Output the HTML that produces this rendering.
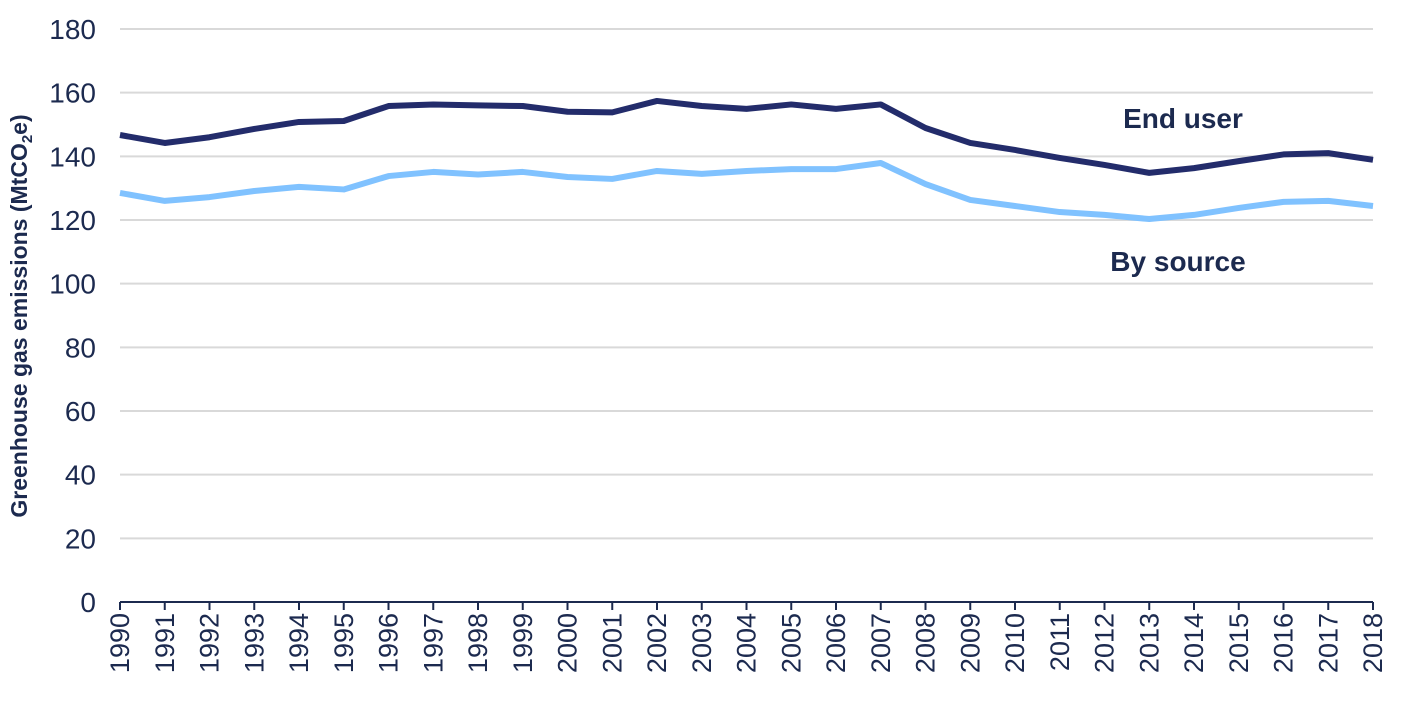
<!DOCTYPE html>
<html><head><meta charset="utf-8"><style>
html,body{margin:0;padding:0;background:#fff;}
svg text{font-family:"Liberation Sans",Arial,sans-serif;fill:#1c2a4f;}
</style></head><body>
<svg id="chart" width="1402" height="715" viewBox="0 0 1402 715" xmlns="http://www.w3.org/2000/svg">
<g id="grid"></g>
<g id="yticks"></g>
<g id="xaxis"></g>
<g id="lines"></g>
<text transform="translate(27,316) rotate(-90)" text-anchor="middle" font-size="23" font-weight="bold">Greenhouse gas emissions (MtCO<tspan font-size="15" dy="5">2</tspan><tspan dy="-5">e)</tspan></text>
<text x="1183" y="128" text-anchor="middle" font-size="28" font-weight="bold">End user</text>
<text x="1178" y="271" text-anchor="middle" font-size="28" font-weight="bold">By source</text>
</svg>
<script>
const years=[1990,1991,1992,1993,1994,1995,1996,1997,1998,1999,2000,2001,2002,2003,2004,2005,2006,2007,2008,2009,2010,2011,2012,2013,2014,2015,2016,2017,2018];
const endUser=[146.7,144.2,146,148.6,150.8,151.1,155.8,156.3,156,155.8,154,153.8,157.4,155.8,154.9,156.3,154.9,156.3,148.9,144.2,142,139.5,137.3,134.8,136.3,138.5,140.6,141,138.9];
const bySource=[128.5,126,127.2,129.1,130.4,129.6,133.8,135.1,134.3,135.1,133.5,132.9,135.4,134.5,135.4,136,136,137.9,131.3,126.3,124.4,122.5,121.6,120.3,121.6,123.8,125.7,126,124.4];
const yTicks=[0,20,40,60,80,100,120,140,160,180];
const NS="http://www.w3.org/2000/svg";
const x0=120,x1=1373,yb=602,yt=29;
function X(i){return x0+(x1-x0)*i/(years.length-1);}
function Y(v){return yb-(yb-yt)*v/180;}
function mk(t,a,p){const e=document.createElementNS(NS,t);for(const k in a)e.setAttribute(k,a[k]);p.appendChild(e);return e;}
const grid=document.getElementById('grid'),yt_=document.getElementById('yticks'),xa=document.getElementById('xaxis'),ln=document.getElementById('lines');
yTicks.forEach(v=>{
  if(v>0){const g=mk('line',{x1:x0,x2:x1,y1:Y(v),y2:Y(v),stroke:'#d9d9d9','stroke-width':2},grid);
  
  }
  const t=mk('text',{x:96,y:Y(v)+10,'text-anchor':'end','font-size':28},yt_);t.textContent=v;
  
  
});
const ax=mk('line',{x1:x0,x2:x1,y1:yb,y2:yb,stroke:'#1c2a4f','stroke-width':2},xa);


years.forEach((y,i)=>{
  const tk=mk('line',{x1:X(i),x2:X(i),y1:yb,y2:yb+8,stroke:'#1c2a4f','stroke-width':2},xa);
  
  
  const t=mk('text',{transform:`translate(${X(i)+9},${yb+11}) rotate(-90)`,'text-anchor':'end','font-size':27},xa);t.textContent=y;
  
  
});
function line(d,c,n){const p=mk('polyline',{points:d.map((v,i)=>X(i)+','+Y(v)).join(' '),fill:'none',stroke:c,'stroke-width':6,'stroke-linejoin':'round'},ln);
  
  }
line(bySource,'#80c2ff','by-source-line');
line(endUser,'#232c6b','end-user-line');
</script>
</body></html>
